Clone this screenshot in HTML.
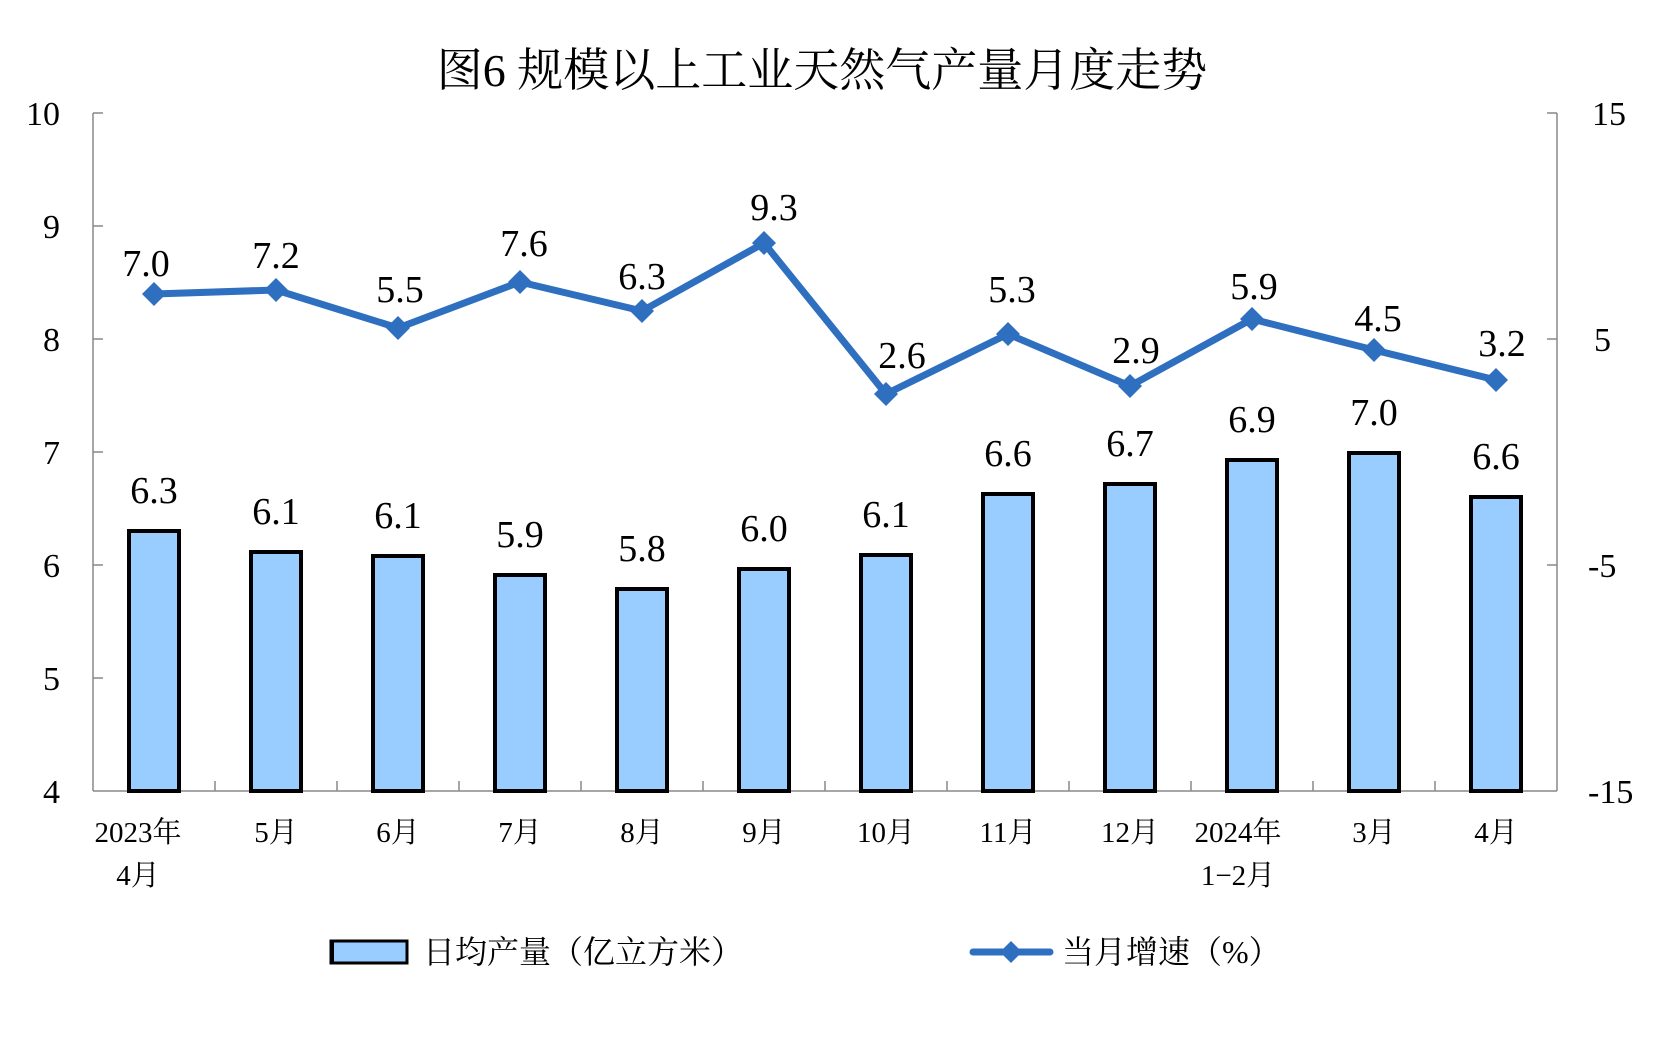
<!DOCTYPE html>
<html><head><meta charset="utf-8"><style>
html,body{margin:0;padding:0;background:#fff}
svg{display:block}
text{font-family:"Liberation Serif","Noto Serif CJK SC",serif;fill:#000}
</style></head><body>
<svg width="1662" height="1038" viewBox="0 0 1662 1038" xmlns="http://www.w3.org/2000/svg">
<text x="822" y="86" font-size="46" text-anchor="middle">图6 规模以上工业天然气产量月度走势</text>
<g stroke="#888" stroke-width="1.5" fill="none">
<line x1="93" y1="113" x2="93" y2="791"/>
<line x1="1557" y1="113" x2="1557" y2="791"/>
<line x1="93" y1="791" x2="1557" y2="791"/>
<path d="M93 113h10M93 226h10M93 339h10M93 452h10M93 565h10M93 678h10"/>
<path d="M1557 113h-10M1557 339h-10M1557 565h-10"/>
<path d="M215 791v-10M337 791v-10M459 791v-10M581 791v-10M703 791v-10M825 791v-10M947 791v-10M1069 791v-10M1191 791v-10M1313 791v-10M1435 791v-10"/>
</g>
<g font-size="34" text-anchor="end">
<text x="60" y="125">10</text><text x="60" y="238">9</text><text x="60" y="351">8</text><text x="60" y="464">7</text><text x="60" y="577">6</text><text x="60" y="690">5</text><text x="60" y="803">4</text>
</g>
<g font-size="34">
<text x="1592" y="125">15</text><text x="1594" y="351">5</text><text x="1588" y="577">-5</text><text x="1588" y="803">-15</text>
</g>
<g fill="#99CCFF" stroke="#000" stroke-width="4">
<rect x="129" y="531" width="50" height="260"/>
<rect x="251" y="552" width="50" height="239"/>
<rect x="373" y="556" width="50" height="235"/>
<rect x="495" y="575" width="50" height="216"/>
<rect x="617" y="589" width="50" height="202"/>
<rect x="739" y="569" width="50" height="222"/>
<rect x="861" y="555" width="50" height="236"/>
<rect x="983" y="494" width="50" height="297"/>
<rect x="1105" y="484" width="50" height="307"/>
<rect x="1227" y="460" width="50" height="331"/>
<rect x="1349" y="453" width="50" height="338"/>
<rect x="1471" y="497" width="50" height="294"/>
</g>
<g font-size="38" text-anchor="middle">
<text x="154" y="503">6.3</text><text x="276" y="524">6.1</text><text x="398" y="528">6.1</text><text x="520" y="547">5.9</text><text x="642" y="561">5.8</text><text x="764" y="541">6.0</text><text x="886" y="527">6.1</text><text x="1008" y="466">6.6</text><text x="1130" y="456">6.7</text><text x="1252" y="432">6.9</text><text x="1374" y="425">7.0</text><text x="1496" y="469">6.6</text>
</g>
<polyline fill="none" stroke="#2E6FBF" stroke-width="7" stroke-linejoin="round" points="154,294 276,290 398,328 520,282 642,311 764,243 886,394 1008,334 1130,386 1252,319 1374,350 1496,380"/>
<g fill="#2E6FBF">
<path d="M154 282l12 12-12 12-12-12z"/><path d="M276 278l12 12-12 12-12-12z"/><path d="M398 316l12 12-12 12-12-12z"/><path d="M520 270l12 12-12 12-12-12z"/><path d="M642 299l12 12-12 12-12-12z"/><path d="M764 231l12 12-12 12-12-12z"/><path d="M886 382l12 12-12 12-12-12z"/><path d="M1008 322l12 12-12 12-12-12z"/><path d="M1130 374l12 12-12 12-12-12z"/><path d="M1252 307l12 12-12 12-12-12z"/><path d="M1374 338l12 12-12 12-12-12z"/><path d="M1496 368l12 12-12 12-12-12z"/>
</g>
<g font-size="38" text-anchor="middle">
<text x="146" y="276">7.0</text><text x="276" y="268">7.2</text><text x="400" y="302">5.5</text><text x="524" y="256">7.6</text><text x="642" y="289">6.3</text><text x="774" y="220">9.3</text><text x="902" y="368">2.6</text><text x="1012" y="302">5.3</text><text x="1136" y="363">2.9</text><text x="1254" y="299">5.9</text><text x="1378" y="331">4.5</text><text x="1502" y="356">3.2</text>
</g>
<g font-size="29" text-anchor="middle">
<text x="138" y="842">2023年</text><text x="138" y="885">4月</text>
<text x="276" y="842">5月</text><text x="398" y="842">6月</text><text x="520" y="842">7月</text><text x="642" y="842">8月</text><text x="764" y="842">9月</text><text x="886" y="842">10月</text><text x="1008" y="842">11月</text><text x="1130" y="842">12月</text>
<text x="1238" y="842">2024年</text><text x="1238" y="885">1−2月</text>
<text x="1374" y="842">3月</text><text x="1496" y="842">4月</text>
</g>
<rect x="331" y="941" width="76" height="22" fill="#99CCFF" stroke="#000" stroke-width="3"/>
<rect x="331" y="941" width="3" height="22" fill="#000"/>
<text x="423" y="963" font-size="32">日均产量（亿立方米）</text>
<line x1="973" y1="952" x2="1050" y2="952" stroke="#2E6FBF" stroke-width="7" stroke-linecap="round"/>
<path d="M1011 941l11 11-11 11-11-11z" fill="#2E6FBF"/>
<text x="1062" y="963" font-size="32">当月增速（%）</text>
</svg>
</body></html>
